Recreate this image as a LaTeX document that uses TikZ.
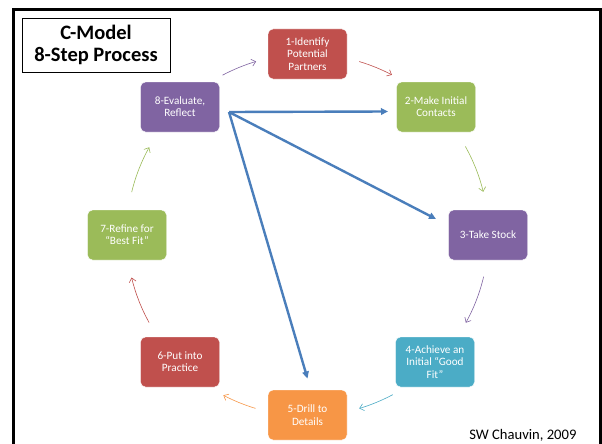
\documentclass[tikz,border=0pt]{standalone}
\usepackage{fontspec}
\setmainfont{Carlito}
\usetikzlibrary{arrows.meta,calc}
\definecolor{cred}{HTML}{C0504D}
\definecolor{cgreen}{HTML}{9BBB59}
\definecolor{cpurple}{HTML}{8064A2}
\definecolor{cteal}{HTML}{4BACC6}
\definecolor{corange}{HTML}{F79646}
\definecolor{cblue}{HTML}{4A7EBB}
\tikzset{
  stepbox/.style={rounded corners=5pt, minimum width=79pt, minimum height=50pt, inner sep=1pt,
    align=center, text=white, draw=white, line width=0.4pt,
    font=\fontsize{11.2}{12.3}\selectfont},
  cyc/.style={line width=0.6pt, -{Straight Barb[length=4pt,width=7pt]}},
  big/.style={cblue, line width=2.4pt, -{Triangle[length=7pt,width=6.5pt]}, shorten <=0pt}
}
\begin{document}
\begin{tikzpicture}[x=1pt,y=-1pt]
\useasboundingbox (0,0) rectangle (602,444);
\clip (0,0) rectangle (602,444);
\fill[white] (0,0) rectangle (602,444);
\draw[line width=2.5pt] (13.5,9.5) rectangle (600.5,460);
\node[draw, line width=0.9pt, minimum width=148pt, minimum height=54pt, inner sep=0pt, align=center,
  font=\fontsize{20.5}{21.7}\selectfont\bfseries] (title) at (96,45) {C-Model\\8-Step Process};
\node[stepbox, fill=cred] (s1) at (307.5,54) {1-Identify\\Potential\\Partners};
\node[stepbox, fill=cgreen] (s2) at (436,107) {2-Make Initial\\Contacts};
\node[stepbox, fill=cpurple] (s3) at (488,235) {3-Take Stock};
\node[stepbox, fill=cteal] (s4) at (435,362) {4-Achieve an\\Initial “Good\\Fit”};
\node[stepbox, fill=corange] (s5) at (307.5,415) {5-Drill to\\Details};
\node[stepbox, fill=cred] (s6) at (180,362) {6-Put into\\Practice};
\node[stepbox, fill=cgreen] (s7) at (127,235) {7-Refine for\\“Best Fit”};
\node[stepbox, fill=cpurple] (s8) at (180,107) {8-Evaluate,\\Reflect};
\node[anchor=base east, font=\fontsize{14.6}{16}\selectfont] (credit) at (580,439) {SW Chauvin, 2009};
\coordinate (c) at (307.5,235);
% cycle arrows
\draw[cyc, cpurple] ($(c)+(118:181pt)$) arc[start angle=118, end angle=106.5, radius=181pt];
\draw[cyc, cred] ($(c)+(73.4:181pt)$) arc[start angle=73.4, end angle=62.2, radius=181pt];
\draw[cyc, cgreen] ($(c)+(29.3:181pt)$) arc[start angle=29.3, end angle=13.8, radius=181pt];
\draw[cyc, cpurple] ($(c)+(-13.3:181pt)$) arc[start angle=-13.3, end angle=-29, radius=181pt];
\draw[cyc, cteal] ($(c)+(-61.9:181pt)$) arc[start angle=-61.9, end angle=-73.4, radius=181pt];
\draw[cyc, corange] ($(c)+(-106.7:181pt)$) arc[start angle=-106.7, end angle=-117.7, radius=181pt];
\draw[cyc, cred] ($(c)+(208.9:181pt)$) arc[start angle=208.9, end angle=193.6, radius=181pt];
\draw[cyc, cgreen] ($(c)+(166.3:181pt)$) arc[start angle=166.3, end angle=151, radius=181pt];
% blue arrows
\coordinate (hub) at (229,112);
\coordinate (e2) at (388,111.5);
\coordinate (e3) at (436,219);
\coordinate (e5) at (307.5,378.5);
\draw[big] (hub) -- (e2);
\draw[big] (hub) -- (e3);
\draw[big] (hub) -- (e5);
\end{tikzpicture}
\end{document}
